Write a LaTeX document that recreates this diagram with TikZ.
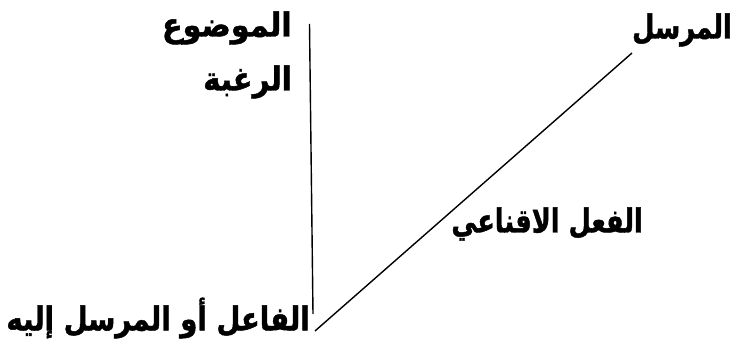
\documentclass[tikz,border=0pt]{standalone}
\usepackage{fontspec}
\newfontfamily\arabicfont[Script=Arabic,BoldFont={DejaVu Sans Bold},BoldFeatures={FakeBold=1.4}]{DejaVu Sans}
\TeXXeTstate=1
\tikzset{
  lbl/.style={anchor=east,inner sep=0pt,transform shape,yscale=1.22,font=\arabicfont\bfseries\fontsize{27}{29}\selectfont},
  ln/.style={draw=black,line width=1.4pt}
}
\begin{document}
\begin{tikzpicture}[x=1pt,y=1pt]
\useasboundingbox (0,0) rectangle (737,353);
\coordinate (vtop) at (309.5,329);
\coordinate (vbot) at (313,39);
\coordinate (dbot) at (315,22);
\coordinate (dtop) at (632,300);
\draw[ln] (vtop) -- (vbot);
\draw[ln] (dbot) -- (dtop);
\node[lbl,xscale=1.12] (obj) at (292,325) {\beginR الموضوع\endR};
\node[lbl,xscale=1.08] (desire) at (292,271) {\beginR الرغبة\endR};
\node[lbl,xscale=0.95] (sender) at (732,323) {\beginR المرسل\endR};
\node[lbl,xscale=0.95] (act) at (643,129) {\beginR الفعل الاقناعي\endR};
\node[lbl,xscale=1.02] (subj) at (310,35) {\beginR الفاعل أو المرسل إليه\endR};
\end{tikzpicture}
\end{document}
